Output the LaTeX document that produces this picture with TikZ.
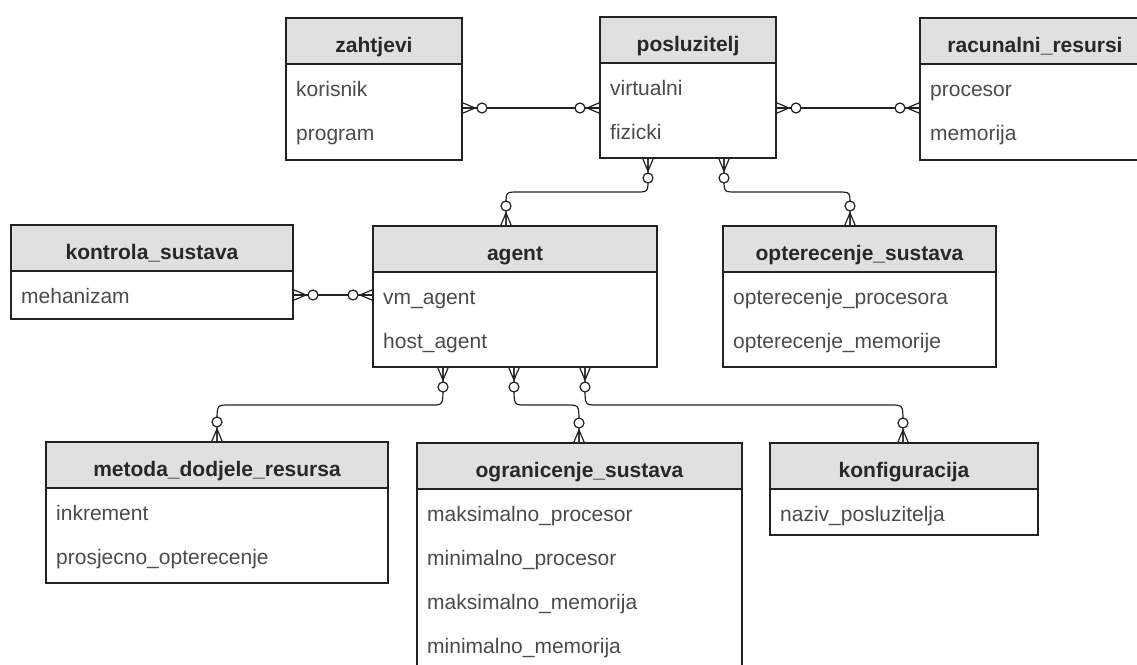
\documentclass[tikz,border=0pt]{standalone}
\usepackage{fontspec}
\setmainfont{Liberation Sans}
\usetikzlibrary{calc}
\definecolor{hdrfill}{RGB}{224,224,224}
\definecolor{linec}{RGB}{34,34,34}
\definecolor{htxt}{RGB}{40,40,40}
\definecolor{rtxt}{RGB}{75,75,75}
\tikzset{
 ebox/.style={draw=linec, line width=1.3pt, fill=white, rectangle, inner sep=0pt, outer sep=0pt},
 hbox/.style={draw=linec, line width=1.3pt, fill=hdrfill, rectangle, inner sep=0pt, outer sep=0pt, minimum height=46pt},
 htext/.style={font=\fontsize{21pt}{25pt}\selectfont\bfseries, text=htxt, inner sep=0pt},
 rtext/.style={font=\fontsize{21pt}{25pt}\selectfont, text=rtxt, inner sep=0pt, anchor=base west},
 conn/.style={draw=linec, line width=1.2pt},
 pics/zmany/.style={code={
   \draw[conn, line join=miter] (0,5.5) -- (13,0) -- (0,-5.5) (0,0) -- (13,0);
   \draw[conn, fill=white] (20,0) circle[radius=5pt];
 }},
}
\newcommand\entity[6]{%
 \node[ebox, minimum width=#4pt, minimum height=#5pt, anchor=north west] (#1) at (#2,#3) {};
 \node[hbox, minimum width=#4pt, anchor=north west] (#1-h) at (#2,#3) {};
 \node[htext, anchor=base] (#1-t) at ([yshift=-34pt]#1-h.north) {#6};
}
\newcommand\erow[3]{%
 \node[rtext] (#1-r#2) at ([xshift=10pt,yshift={-(78+44*#2)*1pt}]#1.north west) {#3};
}
\begin{document}
\begin{tikzpicture}[x=1pt,y=-1pt]
\fill[white] (0,0) rectangle (1137,664);
\useasboundingbox (0,0) rectangle (1137,664);
\clip (0,0) rectangle (1137,664);

% entities
\entity{zahtjevi}{286}{18}{176}{142}{zahtjevi}
\erow{zahtjevi}{0}{korisnik}
\erow{zahtjevi}{1}{program}

\entity{posl}{600}{17}{176}{141}{posluzitelj}
\erow{posl}{0}{virtualni}
\erow{posl}{1}{fizicki}

\entity{racun}{920}{18}{230}{142}{racunalni\_resursi}
\erow{racun}{0}{procesor}
\erow{racun}{1}{memorija}

\entity{kontrola}{11}{225}{282}{94}{kontrola\_sustava}
\erow{kontrola}{0}{mehanizam}

\entity{agent}{373}{226}{284}{141}{agent}
\erow{agent}{0}{vm\_agent}
\erow{agent}{1}{host\_agent}

\entity{opt}{723}{226}{273}{141}{opterecenje\_sustava}
\erow{opt}{0}{opterecenje\_procesora}
\erow{opt}{1}{opterecenje\_memorije}

\entity{metoda}{46}{442}{342}{141}{metoda\_dodjele\_resursa}
\erow{metoda}{0}{inkrement}
\erow{metoda}{1}{prosjecno\_opterecenje}

\entity{ogr}{417}{443}{325}{240}{ogranicenje\_sustava}
\erow{ogr}{0}{maksimalno\_procesor}
\erow{ogr}{1}{minimalno\_procesor}
\erow{ogr}{2}{maksimalno\_memorija}
\erow{ogr}{3}{minimalno\_memorija}

\entity{konf}{770}{443}{268}{92}{konfiguracija}
\erow{konf}{0}{naziv\_posluzitelja}

% connector anchor coordinates
\coordinate (yA) at (0,108);
\coordinate (yB) at (0,295);
\coordinate (p1) at ([xshift=-40pt]posl.south);
\coordinate (p2) at ([xshift=36pt]posl.south);
\coordinate (a0) at ([xshift=-9pt]agent.north);
\coordinate (o0) at ([xshift=-9.5pt]opt.north);
\coordinate (b1) at ([xshift=-72pt]agent.south);
\coordinate (b2) at ([xshift=-1pt]agent.south);
\coordinate (b3) at ([xshift=70pt]agent.south);
\coordinate (m0) at (metoda.north);
\coordinate (g0) at ([xshift=-0.5pt]ogr.north);
\coordinate (k0) at ([xshift=-1pt]konf.north);

% connector lines
\draw[conn] (zahtjevi.east |- yA) -- (posl.west |- yA);
\draw[conn] (posl.east |- yA) -- (racun.west |- yA);
\draw[conn] (kontrola.east |- yB) -- (agent.west |- yB);
\draw[conn] (p1) -- (648,179) .. controls (648,192) .. (636,192) -- (518,192) .. controls (506,192) .. (506,205) -- (a0);
\draw[conn] (p2) -- (724,179) .. controls (724,192) .. (736,192) -- (838,192) .. controls (850,192) .. (850,205) -- (o0);
\draw[conn] (b1) -- (443,387) .. controls (443,405) .. (431,405) -- (229,405) .. controls (217,405) .. (217,422) -- (m0);
\draw[conn] (b2) -- (514,387) .. controls (514,405) .. (526,405) -- (567,405) .. controls (579,405) .. (579,423) -- (g0);
\draw[conn] (b3) -- (585,387) .. controls (585,405) .. (597,405) -- (891,405) .. controls (903,405) .. (903,423) -- (k0);

% zero-or-many ends
\pic at (zahtjevi.east |- yA) {zmany};
\pic[rotate=180] at (posl.west |- yA) {zmany};
\pic at (posl.east |- yA) {zmany};
\pic[rotate=180] at (racun.west |- yA) {zmany};
\pic at (kontrola.east |- yB) {zmany};
\pic[rotate=180] at (agent.west |- yB) {zmany};
\pic[rotate=-90] at (p1) {zmany};
\pic[rotate=-90] at (p2) {zmany};
\pic[rotate=90] at (a0) {zmany};
\pic[rotate=90] at (o0) {zmany};
\pic[rotate=-90] at (b1) {zmany};
\pic[rotate=-90] at (b2) {zmany};
\pic[rotate=-90] at (b3) {zmany};
\pic[rotate=90] at (m0) {zmany};
\pic[rotate=90] at (g0) {zmany};
\pic[rotate=90] at (k0) {zmany};
\end{tikzpicture}
\end{document}
